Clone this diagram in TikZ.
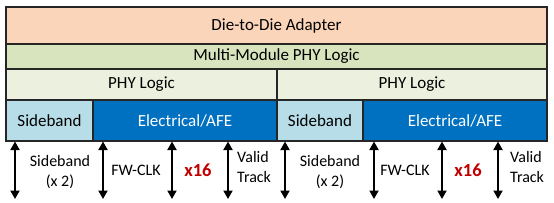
\documentclass[tikz,border=0pt]{standalone}
\usepackage{fontspec}
\setmainfont{Carlito}
\usetikzlibrary{arrows.meta}
\definecolor{peach}{HTML}{FBD5BA}
\definecolor{mmgreen}{HTML}{D7E4BD}
\definecolor{phygreen}{HTML}{EBF1DE}
\definecolor{sbblue}{HTML}{B7DEE8}
\definecolor{afeblue}{HTML}{0070C0}
\definecolor{edge}{HTML}{262626}
\definecolor{xred}{HTML}{C00000}
\tikzset{
  layer/.style={draw=edge, line width=1.5pt, inner sep=0pt, outer sep=0pt, font=\fontsize{17}{20}\selectfont},
  sig/.style={line width=1.9pt, {Triangle[width=9pt,length=8.5pt]}-{Triangle[width=9pt,length=8.5pt]}},
  lbl/.style={font=\fontsize{16}{20}\selectfont, inner sep=0pt},
  xlbl/.style={font=\fontsize{18.5}{20}\selectfont\bfseries, text=xred, inner sep=0pt}
}
\begin{document}
\begin{tikzpicture}[x=1pt,y=-1pt]
\useasboundingbox[fill=white] (0,0) rectangle (554,202);
\node[layer, fill=peach, minimum width=541pt, minimum height=37pt] (d2d) at (276.5,25.5) {Die-to-Die Adapter};
\node[layer, fill=mmgreen, minimum width=541pt, minimum height=25pt] (mm) at (276.5,56.5) {Multi-Module PHY Logic};
\node[layer, fill=phygreen, minimum width=271pt, minimum height=31pt] (phyA) at (141.5,84.5) {PHY Logic};
\node[layer, fill=phygreen, minimum width=270pt, minimum height=31pt] (phyB) at (412,84.5) {PHY Logic};
\node[layer, fill=sbblue, minimum width=87pt, minimum height=41pt] (sbA) at (49.5,120.5) {Sideband};
\node[layer, fill=afeblue, text=white, minimum width=184pt, minimum height=41pt] (afeA) at (185,120.5) {Electrical/AFE};
\node[layer, fill=sbblue, minimum width=86pt, minimum height=41pt] (sbB) at (320,120.5) {Sideband};
\node[layer, fill=afeblue, text=white, minimum width=184pt, minimum height=41pt] (afeB) at (455,120.5) {Electrical/AFE};
% arrow ends
\foreach \n/\x in {a/15,b/103,c/172,d/228,e/285,f/374,g/442,h/498}{
  \coordinate (\n t) at (\x,141.5);
  \coordinate (\n b) at (\x,199);
}
\foreach \n in {a,b,c,d,e,f,g,h}{\draw[sig] (\n t) -- (\n b);}
\node[lbl, align=center] (sblA) at (60,172) {Sideband\\(x 2)};
\node[lbl] (fwA) at (136,170) {FW-CLK};
\node[xlbl] (xA) at (198,170) {x16};
\node[lbl, align=left, anchor=west] (vA) at (237,167) {Valid\\Track};
\node[lbl, align=center] (sblB) at (330,172) {Sideband\\(x 2)};
\node[lbl] (fwB) at (405,170) {FW-CLK};
\node[xlbl] (xB) at (468,170) {x16};
\node[lbl, align=left, anchor=west] (vB) at (510,167) {Valid\\Track};
\end{tikzpicture}
\end{document}
